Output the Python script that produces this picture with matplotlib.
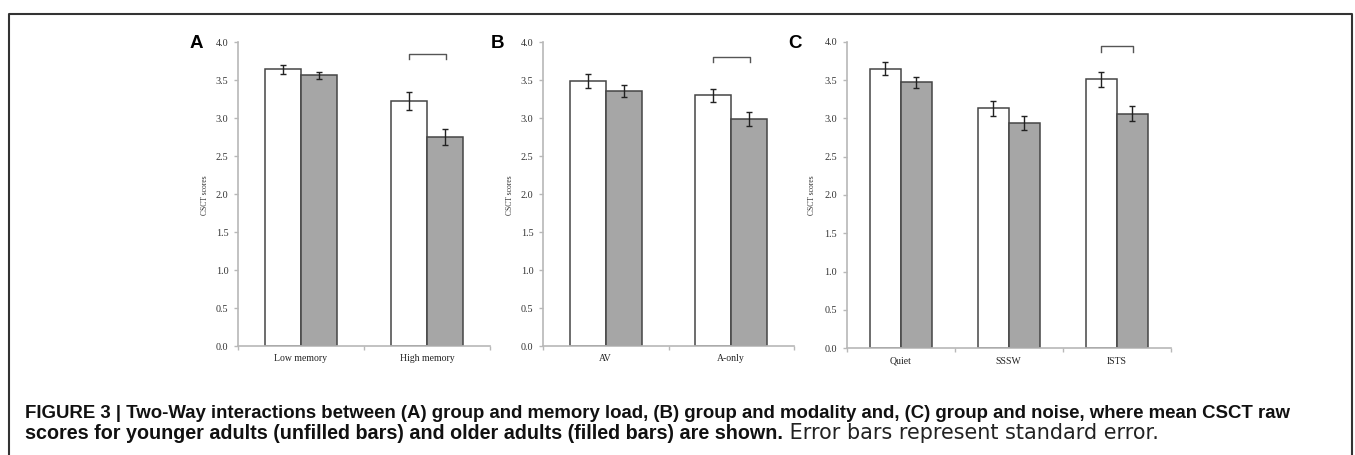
import matplotlib
matplotlib.use("Agg")
import matplotlib.pyplot as plt
import numpy as np
from matplotlib.lines import Line2D

# ---------------- data ----------------
cats_a = ["Low memory", "High memory"]
young_a = [3.64, 3.22]
old_a = [3.56, 2.75]
young_err_a = [0.057, 0.12]
old_err_a = [0.048, 0.11]

cats_b = ["AV", "A-only"]
young_b = [3.49, 3.30]
old_b = [3.36, 2.99]
young_err_b = [0.088, 0.086]
old_err_b = [0.079, 0.086]

cats_c = ["Quiet", "SSSW", "ISTS"]
young_c = [3.65, 3.13, 3.51]
old_c = [3.47, 2.94, 3.06]
young_err_c = [0.083, 0.096, 0.10]
old_err_c = [0.074, 0.089, 0.10]

yticks = [0.0, 0.5, 1.0, 1.5, 2.0, 2.5, 3.0, 3.5, 4.0]
ylabel = "CSCT scores"
panel_letters = ["A", "B", "C"]
# significance brackets: (category index, top of bracket, leg bottom)
bracket_a = (1, 3.84, 3.77)
bracket_b = (1, 3.81, 3.74)
bracket_c = (2, 3.94, 3.86)

caption_bold1 = ("FIGURE 3 | Two-Way interactions between (A) group and memory load, "
                 "(B) group and modality and, (C) group and noise, where mean CSCT raw")
caption_bold2 = "scores for younger adults (unfilled bars) and older adults (filled bars) are shown."
caption_reg2 = " Error bars represent standard error."

# ---------------- figure ----------------
W, H = 1355, 455
fig = plt.figure(figsize=(W / 100, H / 100), dpi=100)

def px_axes(left, right, top, bottom):
    return fig.add_axes([left / W, (H - bottom) / H, (right - left) / W, (bottom - top) / H])

axis_col = "#b8b8b8"
edge_col = "#454545"
fill_col = "#a6a6a6"
serif = ["Liberation Serif", "DejaVu Serif"]

panels = [
    (px_axes(238, 490, 42, 346), cats_a, young_a, old_a, young_err_a, old_err_a, bracket_a, 205, 196.5),
    (px_axes(543, 794, 42.3, 346), cats_b, young_b, old_b, young_err_b, old_err_b, bracket_b, 510, 497.5),
    (px_axes(846.7, 1170.7, 41.7, 348.3), cats_c, young_c, old_c, young_err_c, old_err_c, bracket_c, 812, 795),
]

bw = 0.286
for i, (ax, cats, yv, ov, ye, oe, br, ylx, letx) in enumerate(panels):
    x = np.arange(len(cats))
    ax.bar(x - bw / 2, yv, width=bw, color="white", edgecolor=edge_col, linewidth=1.1, zorder=2)
    ax.bar(x + bw / 2, ov, width=bw, color=fill_col, edgecolor=edge_col, linewidth=1.1, zorder=2)
    ax.errorbar(x - bw / 2, yv, yerr=ye, fmt="none", ecolor="#222222", elinewidth=1.0,
                capsize=2.2, capthick=1.0, zorder=3)
    ax.errorbar(x + bw / 2, ov, yerr=oe, fmt="none", ecolor="#222222", elinewidth=1.0,
                capsize=2.2, capthick=1.0, zorder=3)
    # bracket
    ci, top, leg = br
    bx0, bx1 = ci - bw / 2, ci + bw / 2 + 0.01
    ax.plot([bx0, bx0, bx1, bx1], [leg, top, top, leg], color="#555555", lw=1.0,
            clip_on=False, zorder=3)

    ax.set_xlim(-0.5, len(cats) - 0.5)
    ax.set_ylim(0, 4.0)
    ax.set_yticks(yticks)
    ax.set_yticklabels([f"{t:.1f}" for t in yticks], fontfamily=serif, fontsize=7.3,
                       color="#333333")
    ax.set_xticks(np.arange(len(cats) + 1) - 0.5)
    ax.set_xticklabels([])
    ax.set_xticks(x, minor=True)
    ax.set_xticklabels(cats, minor=True, fontfamily=serif, fontsize=7, color="#222222")
    ax.tick_params(axis="x", which="minor", length=0, pad=6)
    ax.tick_params(axis="x", which="major", length=3, color=axis_col, width=1)
    ax.tick_params(axis="y", length=3, color=axis_col, width=1, pad=4)
    for s in ["top", "right"]:
        ax.spines[s].set_visible(False)
    for s in ["left", "bottom"]:
        ax.spines[s].set_color(axis_col)
        ax.spines[s].set_linewidth(1.2)
    ax.set_facecolor("none")
    fig.text(ylx / W, (H - 195) / H, ylabel, rotation=90, ha="center", va="center",
             fontfamily=serif, fontsize=5.5, color="#333333")
    fig.text(letx / W, (H - 43) / H, panel_letters[i], ha="center", va="center",
             fontfamily=["Liberation Sans", "DejaVu Sans"], fontweight="bold", fontsize=13.5)

# frame around figure
fc = "#333333"
fig.add_artist(Line2D([9 / W, 9 / W, 1352 / W, 1352 / W], [-0.01, (H - 14) / H, (H - 14) / H, -0.01],
                      transform=fig.transFigure, color=fc, lw=1.5, clip_on=False))

# caption
cap_font = ["Liberation Sans", "DejaVu Sans"]
r = fig.canvas.get_renderer()

def fit(t, target, fs):
    for _ in range(3):
        bb = t.get_window_extent(renderer=r)
        fs = fs * target / bb.width
        t.set_fontsize(fs)
    return fs

t1 = fig.text(25 / W, (H - 417.5) / H, caption_bold1, fontfamily=cap_font, fontweight="bold",
              fontsize=12, ha="left", va="baseline", color="#111111")
fs1 = fit(t1, 1268, 12)
t2 = fig.text(25 / W, (H - 439) / H, caption_bold2, fontfamily=cap_font, fontweight="bold",
              fontsize=fs1, ha="left", va="baseline", color="#111111")
fs2 = fit(t2, 762, fs1)
bb = t2.get_window_extent(renderer=r)
t3 = fig.text(bb.x1 / W, (H - 439) / H, caption_reg2, fontfamily=["DejaVu Sans"],
              fontweight="normal", fontsize=fs2, ha="left", va="baseline", color="#222222")
fs3 = fit(t3, 1158 - bb.x1, fs2)
if fs3 > fs2 * 1.08:
    t3.set_fontsize(fs2 * 1.08)

fig.savefig("out.png", dpi=100)
